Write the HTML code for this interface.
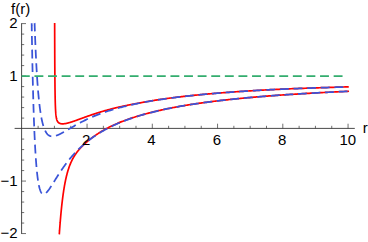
<!DOCTYPE html>
<html><head><meta charset="utf-8"><title>f(r) plot</title><style>
html,body{margin:0;padding:0;background:#fff;}
body{width:368px;height:242px;overflow:hidden;}
svg{display:block;}
</style></head><body>
<svg width="368" height="242" viewBox="0 0 368 242">
<rect width="368" height="242" fill="#fff"/>
<g fill="none" stroke="#343434">
<path d="M14.6,128.40 H354.8" stroke-width="0.9"/>
<path d="M21.60,23.25 V233.91" stroke-width="0.9"/>
<path d="M38.11,128.40 v-2.60 M54.42,128.40 v-2.60 M70.74,128.40 v-2.60 M87.05,128.40 v-4.70 M103.36,128.40 v-2.60 M119.67,128.40 v-2.60 M135.99,128.40 v-2.60 M152.30,128.40 v-4.70 M168.61,128.40 v-2.60 M184.93,128.40 v-2.60 M201.24,128.40 v-2.60 M217.55,128.40 v-4.70 M233.86,128.40 v-2.60 M250.18,128.40 v-2.60 M266.49,128.40 v-2.60 M282.80,128.40 v-4.70 M299.11,128.40 v-2.60 M315.43,128.40 v-2.60 M331.74,128.40 v-2.60 M348.05,128.40 v-4.70 " stroke-width="0.7"/>
<path d="M21.60,233.56 h4.40 M21.60,223.06 h2.60 M21.60,212.56 h2.60 M21.60,202.07 h2.60 M21.60,191.57 h2.60 M21.60,181.07 h4.40 M21.60,170.57 h2.60 M21.60,160.07 h2.60 M21.60,149.58 h2.60 M21.60,139.08 h2.60 M21.60,118.08 h2.60 M21.60,107.58 h2.60 M21.60,97.09 h2.60 M21.60,86.59 h2.60 M21.60,76.09 h4.40 M21.60,65.59 h2.60 M21.60,55.09 h2.60 M21.60,44.60 h2.60 M21.60,34.10 h2.60 M21.60,23.60 h4.40 " stroke-width="0.7"/>
</g>
<g fill="none" stroke-linejoin="round">
<path d="M54.65,23.08 L54.65,23.08 L54.65,23.08 L54.65,23.10 L54.65,23.14 L54.65,23.19 L54.65,23.28 L54.65,23.40 L54.65,23.56 L54.65,23.77 L54.65,24.02 L54.65,24.33 L54.66,24.70 L54.66,25.13 L54.66,25.63 L54.66,26.21 L54.66,26.86 L54.66,27.59 L54.67,28.39 L54.67,29.28 L54.67,30.26 L54.67,31.32 L54.68,32.46 L54.68,33.69 L54.68,35.00 L54.69,36.39 L54.69,37.86 L54.70,39.40 L54.70,41.01 L54.71,42.69 L54.72,44.43 L54.72,46.23 L54.73,48.08 L54.74,49.97 L54.74,51.90 L54.75,53.87 L54.76,55.86 L54.77,57.87 L54.78,59.89 L54.79,61.91 L54.80,63.94 L54.81,65.96 L54.83,67.97 L54.84,69.97 L54.85,71.94 L54.87,73.88 L54.88,75.80 L54.90,77.68 L54.91,79.52 L54.93,81.32 L54.95,83.07 L54.97,84.78 L54.98,86.45 L55.00,88.06 L55.02,89.62 L55.05,91.14 L55.07,92.60 L55.09,94.01 L55.11,95.36 L55.14,96.67 L55.16,97.92 L55.19,99.13 L55.22,100.29 L55.24,101.39 L55.27,102.46 L55.30,103.47 L55.33,104.44 L55.36,105.37 L55.40,106.26 L55.43,107.10 L55.46,107.91 L55.50,108.68 L55.54,109.41 L55.57,110.11 L55.61,110.78 L55.65,111.41 L55.69,112.01 L55.73,112.59 L55.77,113.14 L55.82,113.66 L55.86,114.16 L55.91,114.63 L55.96,115.08 L56.01,115.51 L56.05,115.91 L56.11,116.30 L56.16,116.67 L56.21,117.02 L56.26,117.36 L56.32,117.68 L56.38,117.98 L56.44,118.27 L56.49,118.55 L56.56,118.81 L56.62,119.06 L56.68,119.30 L56.75,119.53 L56.81,119.75 L56.88,119.96 L56.95,120.16 L57.02,120.35 L57.09,120.53 L57.16,120.71 L57.24,120.87 L57.31,121.03 L57.39,121.18 L57.47,121.33 L57.55,121.47 L57.63,121.60 L57.72,121.73 L57.80,121.85 L57.89,121.97 L57.98,122.08 L58.07,122.18 L58.16,122.29 L58.25,122.38 L58.35,122.48 L58.44,122.57 L58.54,122.65 L58.64,122.73 L58.74,122.81 L58.84,122.88 L58.95,122.96 L59.06,123.02 L59.16,123.09 L59.27,123.15 L59.39,123.21 L59.50,123.26 L59.62,123.31 L59.73,123.36 L59.85,123.41 L59.97,123.45 L60.10,123.49 L60.22,123.53 L60.35,123.57 L60.48,123.60 L60.61,123.63 L60.74,123.66 L60.87,123.69 L61.01,123.71 L61.15,123.74 L61.29,123.76 L61.43,123.77 L61.57,123.79 L61.72,123.80 L61.87,123.81 L62.02,123.82 L62.17,123.83 L62.32,123.83 L62.48,123.83 L62.64,123.83 L62.80,123.83 L62.96,123.83 L63.13,123.82 L63.30,123.81 L63.47,123.80 L63.64,123.79 L63.81,123.77 L63.99,123.76 L64.17,123.74 L64.35,123.72 L64.53,123.69 L64.71,123.67 L64.90,123.64 L65.09,123.61 L65.28,123.58 L65.48,123.55 L65.68,123.51 L65.87,123.47 L66.08,123.44 L66.28,123.39 L66.49,123.35 L66.70,123.31 L66.91,123.26 L67.12,123.21 L67.34,123.16 L67.56,123.11 L67.78,123.05 L68.00,122.99 L68.23,122.93 L68.46,122.87 L68.69,122.81 L68.92,122.75 L69.16,122.68 L69.40,122.61 L69.64,122.54 L69.88,122.47 L70.13,122.40 L70.38,122.32 L70.63,122.24 L70.89,122.16 L71.14,122.08 L71.40,122.00 L71.67,121.92 L71.93,121.83 L72.20,121.74 L72.47,121.65 L72.75,121.56 L73.02,121.47 L73.30,121.37 L73.59,121.28 L73.87,121.18 L74.16,121.08 L74.45,120.98 L74.75,120.87 L75.04,120.77 L75.34,120.66 L75.65,120.56 L75.95,120.45 L76.26,120.34 L76.57,120.22 L76.89,120.11 L77.20,120.00 L77.52,119.88 L77.85,119.76 L78.17,119.64 L78.50,119.52 L78.84,119.40 L79.17,119.28 L79.51,119.16 L79.85,119.03 L80.20,118.90 L80.55,118.78 L80.90,118.65 L81.25,118.52 L81.61,118.39 L81.97,118.25 L82.34,118.12 L82.70,117.99 L83.08,117.85 L83.45,117.72 L83.83,117.58 L84.21,117.44 L84.59,117.30 L84.98,117.16 L85.37,117.02 L85.76,116.88 L86.16,116.74 L86.56,116.60 L86.96,116.45 L87.37,116.31 L87.78,116.16 L88.20,116.02 L88.61,115.87 L89.04,115.72 L89.46,115.58 L89.89,115.43 L90.32,115.28 L90.75,115.13 L91.19,114.98 L91.63,114.83 L92.08,114.68 L92.53,114.53 L92.98,114.38 L93.44,114.22 L93.90,114.07 L94.36,113.92 L94.83,113.77 L95.30,113.61 L95.77,113.46 L96.25,113.31 L96.73,113.15 L97.22,113.00 L97.71,112.84 L98.20,112.69 L98.70,112.54 L99.20,112.38 L99.70,112.23 L100.21,112.07 L100.72,111.92 L101.24,111.76 L101.76,111.61 L102.28,111.45 L102.81,111.30 L103.34,111.14 L103.88,110.99 L104.41,110.83 L104.96,110.68 L105.50,110.52 L106.05,110.37 L106.61,110.22 L107.17,110.06 L107.73,109.91 L108.30,109.76 L108.87,109.60 L109.44,109.45 L110.02,109.30 L110.60,109.15 L111.19,108.99 L111.78,108.84 L112.38,108.69 L112.98,108.54 L113.58,108.39 L114.19,108.24 L114.80,108.09 L115.42,107.94 L116.04,107.79 L116.66,107.64 L117.29,107.49 L117.92,107.35 L118.56,107.20 L119.20,107.05 L119.84,106.91 L120.49,106.76 L121.15,106.61 L121.81,106.47 L122.47,106.32 L123.14,106.18 L123.81,106.04 L124.48,105.89 L125.16,105.75 L125.85,105.61 L126.54,105.46 L127.23,105.32 L127.93,105.18 L128.63,105.04 L129.34,104.90 L130.05,104.76 L130.76,104.62 L131.49,104.48 L132.21,104.34 L132.94,104.20 L133.67,104.06 L134.41,103.93 L135.15,103.78 L135.90,103.64 L136.65,103.50 L137.41,103.36 L138.17,103.22 L138.94,103.08 L139.71,102.93 L140.49,102.79 L141.27,102.65 L142.05,102.50 L142.84,102.36 L143.64,102.21 L144.44,102.07 L145.24,101.92 L146.05,101.78 L146.86,101.64 L147.68,101.49 L148.50,101.35 L149.33,101.20 L150.16,101.06 L151.00,100.92 L151.84,100.77 L152.69,100.63 L153.54,100.49 L154.40,100.35 L155.26,100.21 L156.13,100.07 L157.00,99.93 L157.88,99.79 L158.76,99.65 L159.65,99.52 L160.54,99.38 L161.44,99.25 L162.34,99.12 L163.25,98.99 L164.16,98.86 L165.08,98.74 L166.00,98.61 L166.93,98.49 L167.87,98.36 L168.80,98.24 L169.75,98.11 L170.70,97.99 L171.65,97.87 L172.61,97.75 L173.57,97.63 L174.54,97.51 L175.52,97.39 L176.50,97.27 L177.48,97.15 L178.47,97.03 L179.47,96.91 L180.47,96.79 L181.48,96.68 L182.49,96.56 L183.50,96.45 L184.53,96.33 L185.56,96.22 L186.59,96.10 L187.63,95.99 L188.67,95.88 L189.72,95.76 L190.78,95.65 L191.84,95.54 L192.90,95.43 L193.98,95.32 L195.05,95.21 L196.14,95.10 L197.22,95.00 L198.32,94.89 L199.42,94.78 L200.52,94.68 L201.63,94.57 L202.75,94.47 L203.87,94.36 L205.00,94.26 L206.13,94.15 L207.27,94.05 L208.42,93.95 L209.57,93.85 L210.72,93.75 L211.88,93.65 L213.05,93.55 L214.23,93.45 L215.40,93.35 L216.59,93.25 L217.78,93.15 L218.98,93.06 L220.18,92.96 L221.39,92.87 L222.60,92.77 L223.82,92.68 L225.05,92.58 L226.28,92.49 L227.52,92.40 L228.76,92.31 L230.01,92.21 L231.27,92.12 L232.53,92.03 L233.79,91.94 L235.07,91.85 L236.35,91.76 L237.63,91.68 L238.92,91.59 L240.22,91.50 L241.53,91.41 L242.84,91.33 L244.15,91.24 L245.47,91.16 L246.80,91.07 L248.14,90.99 L249.48,90.91 L250.82,90.82 L252.18,90.74 L253.54,90.66 L254.90,90.58 L256.27,90.50 L257.65,90.42 L259.03,90.34 L260.42,90.26 L261.82,90.18 L263.22,90.10 L264.63,90.02 L266.05,89.94 L267.47,89.87 L268.90,89.79 L270.33,89.72 L271.78,89.64 L273.22,89.57 L274.68,89.50 L276.14,89.43 L277.60,89.36 L279.08,89.29 L280.56,89.22 L282.04,89.16 L283.54,89.09 L285.04,89.02 L286.54,88.96 L288.05,88.90 L289.57,88.83 L291.10,88.77 L292.63,88.71 L294.17,88.65 L295.71,88.59 L297.27,88.53 L298.82,88.47 L300.39,88.41 L301.96,88.35 L303.54,88.30 L305.12,88.24 L306.72,88.19 L308.32,88.13 L309.92,88.07 L311.53,88.02 L313.15,87.96 L314.78,87.91 L316.41,87.86 L318.05,87.80 L319.70,87.75 L321.35,87.70 L323.01,87.64 L324.68,87.59 L326.35,87.54 L328.03,87.48 L329.72,87.43 L331.41,87.38 L333.11,87.33 L334.82,87.27 L336.54,87.22 L338.26,87.17 L339.99,87.11 L341.73,87.06 L343.47,87.00 L345.22,86.95 L346.98,86.89 L348.74,86.84" stroke="#ff0000" stroke-width="1.7"/>
<path d="M59.30,234.19 L59.30,234.19 L59.30,234.19 L59.30,234.19 L59.30,234.19 L59.30,234.19 L59.30,234.18 L59.30,234.18 L59.30,234.17 L59.30,234.17 L59.30,234.16 L59.30,234.14 L59.31,234.13 L59.31,234.12 L59.31,234.10 L59.31,234.08 L59.31,234.05 L59.31,234.02 L59.32,233.99 L59.32,233.96 L59.32,233.92 L59.32,233.88 L59.33,233.83 L59.33,233.78 L59.33,233.72 L59.34,233.66 L59.34,233.59 L59.35,233.52 L59.35,233.45 L59.36,233.36 L59.36,233.28 L59.37,233.18 L59.38,233.08 L59.39,232.98 L59.39,232.86 L59.40,232.75 L59.41,232.62 L59.42,232.49 L59.43,232.35 L59.44,232.20 L59.45,232.04 L59.46,231.88 L59.47,231.71 L59.49,231.53 L59.50,231.35 L59.51,231.15 L59.53,230.95 L59.54,230.74 L59.56,230.52 L59.58,230.29 L59.59,230.06 L59.61,229.81 L59.63,229.56 L59.65,229.29 L59.67,229.02 L59.69,228.74 L59.71,228.45 L59.73,228.15 L59.76,227.84 L59.78,227.52 L59.81,227.19 L59.83,226.85 L59.86,226.50 L59.88,226.15 L59.91,225.78 L59.94,225.40 L59.97,225.02 L60.00,224.62 L60.03,224.22 L60.07,223.80 L60.10,223.38 L60.14,222.94 L60.17,222.50 L60.21,222.05 L60.25,221.59 L60.29,221.12 L60.33,220.64 L60.37,220.15 L60.41,219.65 L60.45,219.14 L60.50,218.63 L60.54,218.10 L60.59,217.57 L60.64,217.03 L60.68,216.48 L60.73,215.93 L60.78,215.36 L60.84,214.79 L60.89,214.21 L60.95,213.62 L61.00,213.03 L61.06,212.43 L61.12,211.82 L61.18,211.20 L61.24,210.58 L61.30,209.95 L61.36,209.32 L61.43,208.68 L61.50,208.04 L61.56,207.39 L61.63,206.74 L61.70,206.08 L61.78,205.41 L61.85,204.75 L61.92,204.07 L62.00,203.40 L62.08,202.72 L62.16,202.04 L62.24,201.36 L62.32,200.67 L62.41,199.98 L62.49,199.29 L62.58,198.60 L62.67,197.90 L62.76,197.21 L62.85,196.51 L62.94,195.81 L63.04,195.11 L63.13,194.42 L63.23,193.72 L63.33,193.02 L63.43,192.32 L63.54,191.63 L63.64,190.93 L63.75,190.24 L63.86,189.55 L63.97,188.86 L64.08,188.17 L64.19,187.49 L64.31,186.81 L64.42,186.13 L64.54,185.45 L64.66,184.78 L64.79,184.11 L64.91,183.44 L65.04,182.78 L65.17,182.12 L65.30,181.47 L65.43,180.82 L65.56,180.17 L65.70,179.53 L65.84,178.90 L65.98,178.27 L66.12,177.64 L66.26,177.02 L66.41,176.40 L66.56,175.80 L66.71,175.19 L66.86,174.59 L67.02,174.00 L67.17,173.41 L67.33,172.83 L67.49,172.25 L67.65,171.68 L67.82,171.12 L67.99,170.56 L68.15,170.01 L68.33,169.46 L68.50,168.92 L68.67,168.39 L68.85,167.86 L69.03,167.34 L69.22,166.82 L69.40,166.31 L69.59,165.81 L69.78,165.31 L69.97,164.82 L70.16,164.33 L70.36,163.85 L70.56,163.38 L70.76,162.91 L70.96,162.44 L71.17,161.98 L71.38,161.53 L71.59,161.08 L71.80,160.64 L72.01,160.20 L72.23,159.76 L72.45,159.34 L72.68,158.91 L72.90,158.49 L73.13,158.08 L73.36,157.67 L73.59,157.26 L73.83,156.86 L74.07,156.46 L74.31,156.07 L74.55,155.68 L74.80,155.29 L75.04,154.91 L75.30,154.53 L75.55,154.16 L75.81,153.79 L76.07,153.42 L76.33,153.05 L76.59,152.69 L76.86,152.33 L77.13,151.97 L77.40,151.62 L77.68,151.27 L77.96,150.92 L78.24,150.57 L78.52,150.23 L78.81,149.89 L79.10,149.55 L79.39,149.21 L79.69,148.87 L79.98,148.54 L80.29,148.20 L80.59,147.87 L80.90,147.54 L81.21,147.22 L81.52,146.89 L81.84,146.57 L82.15,146.24 L82.48,145.92 L82.80,145.60 L83.13,145.28 L83.46,144.96 L83.79,144.64 L84.13,144.32 L84.47,144.01 L84.81,143.69 L85.16,143.38 L85.51,143.07 L85.86,142.75 L86.22,142.44 L86.58,142.13 L86.94,141.82 L87.30,141.51 L87.67,141.20 L88.04,140.89 L88.42,140.58 L88.80,140.28 L89.18,139.97 L89.56,139.66 L89.95,139.36 L90.34,139.05 L90.74,138.75 L91.14,138.44 L91.54,138.14 L91.94,137.84 L92.35,137.53 L92.76,137.23 L93.18,136.93 L93.59,136.63 L94.01,136.33 L94.44,136.03 L94.87,135.73 L95.30,135.43 L95.74,135.13 L96.17,134.83 L96.62,134.53 L97.06,134.24 L97.51,133.94 L97.97,133.65 L98.42,133.35 L98.88,133.06 L99.35,132.76 L99.81,132.47 L100.29,132.18 L100.76,131.89 L101.24,131.60 L101.72,131.31 L102.21,131.02 L102.70,130.73 L103.19,130.45 L103.69,130.16 L104.19,129.88 L104.69,129.59 L105.20,129.31 L105.71,129.03 L106.23,128.75 L106.75,128.47 L107.27,128.19 L107.80,127.91 L108.33,127.64 L108.86,127.36 L109.40,127.09 L109.94,126.82 L110.49,126.55 L111.04,126.28 L111.59,126.01 L112.15,125.74 L112.71,125.48 L113.28,125.21 L113.85,124.95 L114.42,124.69 L115.00,124.43 L115.59,124.17 L116.17,123.92 L116.76,123.66 L117.36,123.41 L117.95,123.15 L118.56,122.90 L119.16,122.65 L119.77,122.40 L120.39,122.15 L121.01,121.91 L121.63,121.66 L122.26,121.42 L122.89,121.18 L123.53,120.94 L124.17,120.70 L124.81,120.46 L125.46,120.22 L126.11,119.98 L126.77,119.75 L127.43,119.51 L128.10,119.28 L128.77,119.05 L129.44,118.82 L130.12,118.59 L130.80,118.36 L131.49,118.13 L132.18,117.90 L132.88,117.68 L133.58,117.45 L134.29,117.23 L135.00,117.01 L135.71,116.78 L136.43,116.56 L137.15,116.34 L137.88,116.12 L138.61,115.90 L139.35,115.68 L140.09,115.46 L140.83,115.25 L141.58,115.03 L142.34,114.82 L143.10,114.60 L143.86,114.39 L144.63,114.18 L145.41,113.96 L146.18,113.75 L146.97,113.54 L147.75,113.33 L148.55,113.12 L149.34,112.92 L150.14,112.71 L150.95,112.50 L151.76,112.30 L152.58,112.10 L153.40,111.89 L154.22,111.69 L155.05,111.49 L155.89,111.29 L156.73,111.09 L157.57,110.89 L158.42,110.70 L159.28,110.50 L160.14,110.31 L161.00,110.11 L161.87,109.92 L162.74,109.73 L163.62,109.54 L164.51,109.35 L165.40,109.16 L166.29,108.97 L167.19,108.78 L168.09,108.60 L169.00,108.41 L169.92,108.23 L170.84,108.05 L171.76,107.86 L172.69,107.68 L173.62,107.50 L174.56,107.33 L175.51,107.15 L176.46,106.97 L177.41,106.80 L178.37,106.62 L179.34,106.45 L180.31,106.28 L181.29,106.11 L182.27,105.94 L183.25,105.77 L184.24,105.60 L185.24,105.43 L186.24,105.27 L187.25,105.10 L188.26,104.94 L189.28,104.77 L190.31,104.61 L191.33,104.45 L192.37,104.29 L193.41,104.13 L194.45,103.97 L195.50,103.81 L196.56,103.66 L197.62,103.50 L198.69,103.35 L199.76,103.19 L200.84,103.04 L201.92,102.89 L203.01,102.74 L204.10,102.59 L205.20,102.44 L206.31,102.29 L207.42,102.15 L208.54,102.00 L209.66,101.85 L210.79,101.71 L211.92,101.57 L213.06,101.42 L214.20,101.28 L215.35,101.14 L216.51,101.00 L217.67,100.86 L218.84,100.72 L220.01,100.59 L221.19,100.45 L222.37,100.32 L223.56,100.18 L224.76,100.05 L225.96,99.91 L227.17,99.78 L228.38,99.65 L229.60,99.52 L230.83,99.39 L232.06,99.26 L233.30,99.13 L234.54,99.00 L235.79,98.88 L237.04,98.75 L238.30,98.63 L239.57,98.50 L240.84,98.38 L242.12,98.26 L243.40,98.14 L244.69,98.01 L245.99,97.89 L247.29,97.77 L248.60,97.66 L249.92,97.54 L251.24,97.42 L252.56,97.30 L253.90,97.19 L255.24,97.07 L256.58,96.96 L257.93,96.84 L259.29,96.73 L260.65,96.62 L262.02,96.51 L263.40,96.40 L264.78,96.29 L266.17,96.18 L267.56,96.07 L268.96,95.96 L270.37,95.85 L271.79,95.75 L273.20,95.64 L274.63,95.54 L276.06,95.43 L277.50,95.33 L278.95,95.22 L280.40,95.12 L281.86,95.02 L283.32,94.92 L284.79,94.82 L286.27,94.72 L287.75,94.62 L289.24,94.52 L290.74,94.42 L292.24,94.32 L293.75,94.23 L295.27,94.13 L296.79,94.03 L298.32,93.94 L299.85,93.84 L301.39,93.75 L302.94,93.66 L304.50,93.56 L306.06,93.47 L307.63,93.38 L309.20,93.29 L310.78,93.20 L312.37,93.11 L313.97,93.02 L315.57,92.93 L317.18,92.84 L318.79,92.75 L320.41,92.67 L322.04,92.58 L323.68,92.50 L325.32,92.41 L326.97,92.32 L328.63,92.24 L330.29,92.16 L331.96,92.07 L333.63,91.99 L335.32,91.91 L337.01,91.83 L338.70,91.75 L340.41,91.66 L342.12,91.58 L343.83,91.50 L345.56,91.43 L347.29,91.35 L349.03,91.27" stroke="#ff0000" stroke-width="1.7"/>
<path d="M34.60,23.18 L34.60,23.18 L34.60,23.18 L34.60,23.18 L34.60,23.19 L34.60,23.19 L34.60,23.20 L34.60,23.21 L34.60,23.22 L34.60,23.24 L34.60,23.26 L34.61,23.28 L34.61,23.31 L34.61,23.35 L34.61,23.39 L34.61,23.44 L34.61,23.49 L34.61,23.55 L34.62,23.62 L34.62,23.70 L34.62,23.79 L34.63,23.88 L34.63,23.99 L34.63,24.10 L34.64,24.22 L34.64,24.36 L34.65,24.51 L34.65,24.66 L34.66,24.83 L34.66,25.01 L34.67,25.21 L34.68,25.42 L34.68,25.64 L34.69,25.87 L34.70,26.12 L34.71,26.38 L34.72,26.66 L34.73,26.95 L34.74,27.26 L34.75,27.59 L34.76,27.93 L34.78,28.28 L34.79,28.65 L34.80,29.04 L34.82,29.45 L34.83,29.87 L34.85,30.31 L34.86,30.77 L34.88,31.25 L34.90,31.74 L34.92,32.25 L34.94,32.78 L34.96,33.33 L34.98,33.89 L35.00,34.48 L35.02,35.08 L35.04,35.70 L35.07,36.34 L35.09,37.00 L35.12,37.67 L35.15,38.36 L35.17,39.08 L35.20,39.80 L35.23,40.55 L35.26,41.32 L35.29,42.10 L35.33,42.90 L35.36,43.72 L35.39,44.55 L35.43,45.40 L35.47,46.27 L35.50,47.15 L35.54,48.05 L35.58,48.96 L35.62,49.89 L35.66,50.84 L35.71,51.80 L35.75,52.77 L35.80,53.75 L35.84,54.75 L35.89,55.76 L35.94,56.79 L35.99,57.82 L36.04,58.87 L36.09,59.93 L36.15,60.99 L36.20,62.07 L36.26,63.15 L36.32,64.25 L36.38,65.35 L36.44,66.46 L36.50,67.58 L36.56,68.70 L36.63,69.83 L36.69,70.96 L36.76,72.09 L36.83,73.23 L36.90,74.38 L36.97,75.52 L37.04,76.67 L37.12,77.82 L37.20,78.97 L37.27,80.12 L37.35,81.27 L37.43,82.41 L37.52,83.56 L37.60,84.70 L37.69,85.84 L37.77,86.98 L37.86,88.11 L37.95,89.23 L38.05,90.35 L38.14,91.47 L38.23,92.58 L38.33,93.68 L38.43,94.77 L38.53,95.86 L38.63,96.93 L38.74,98.00 L38.84,99.06 L38.95,100.10 L39.06,101.14 L39.17,102.16 L39.29,103.18 L39.40,104.18 L39.52,105.17 L39.64,106.15 L39.76,107.11 L39.88,108.06 L40.01,109.00 L40.13,109.92 L40.26,110.83 L40.39,111.72 L40.53,112.60 L40.66,113.46 L40.80,114.31 L40.94,115.14 L41.08,115.96 L41.22,116.76 L41.36,117.55 L41.51,118.31 L41.66,119.07 L41.81,119.80 L41.96,120.52 L42.12,121.22 L42.28,121.91 L42.44,122.58 L42.60,123.23 L42.76,123.86 L42.93,124.48 L43.10,125.08 L43.27,125.66 L43.44,126.23 L43.62,126.78 L43.80,127.31 L43.98,127.83 L44.16,128.33 L44.35,128.81 L44.53,129.28 L44.72,129.73 L44.91,130.16 L45.11,130.58 L45.31,130.98 L45.51,131.36 L45.71,131.73 L45.91,132.09 L46.12,132.42 L46.33,132.75 L46.54,133.05 L46.75,133.35 L46.97,133.62 L47.19,133.89 L47.41,134.13 L47.64,134.37 L47.87,134.59 L48.10,134.79 L48.33,134.99 L48.56,135.17 L48.80,135.33 L49.04,135.48 L49.29,135.62 L49.53,135.75 L49.78,135.87 L50.03,135.97 L50.29,136.06 L50.54,136.14 L50.80,136.21 L51.07,136.27 L51.33,136.31 L51.60,136.35 L51.87,136.37 L52.15,136.39 L52.42,136.39 L52.70,136.39 L52.99,136.37 L53.27,136.35 L53.56,136.31 L53.85,136.27 L54.15,136.22 L54.44,136.16 L54.74,136.09 L55.05,136.01 L55.35,135.93 L55.66,135.84 L55.98,135.74 L56.29,135.63 L56.61,135.52 L56.93,135.40 L57.26,135.27 L57.59,135.14 L57.92,135.00 L58.25,134.85 L58.59,134.70 L58.93,134.54 L59.28,134.38 L59.62,134.21 L59.98,134.04 L60.33,133.86 L60.69,133.68 L61.05,133.49 L61.41,133.30 L61.78,133.10 L62.15,132.90 L62.52,132.70 L62.90,132.49 L63.28,132.28 L63.66,132.06 L64.05,131.84 L64.44,131.62 L64.84,131.40 L65.24,131.17 L65.64,130.94 L66.04,130.70 L66.45,130.47 L66.86,130.23 L67.28,129.99 L67.70,129.74 L68.12,129.50 L68.54,129.25 L68.97,129.00 L69.41,128.75 L69.84,128.50 L70.28,128.24 L70.73,127.99 L71.18,127.73 L71.63,127.47 L72.08,127.21 L72.54,126.95 L73.01,126.68 L73.47,126.42 L73.94,126.15 L74.42,125.88 L74.89,125.61 L75.38,125.34 L75.86,125.07 L76.35,124.80 L76.84,124.52 L77.34,124.25 L77.84,123.98 L78.35,123.70 L78.85,123.43 L79.37,123.15 L79.88,122.87 L80.40,122.60 L80.93,122.32 L81.46,122.04 L81.99,121.77 L82.53,121.49 L83.07,121.21 L83.61,120.94 L84.16,120.66 L84.71,120.39 L85.27,120.11 L85.83,119.84 L86.39,119.56 L86.96,119.29 L87.54,119.02 L88.11,118.75 L88.70,118.48 L89.28,118.21 L89.87,117.94 L90.47,117.67 L91.06,117.41 L91.67,117.14 L92.27,116.88 L92.89,116.62 L93.50,116.36 L94.12,116.10 L94.75,115.84 L95.37,115.59 L96.01,115.34 L96.64,115.09 L97.29,114.84 L97.93,114.59 L98.58,114.35 L99.24,114.10 L99.90,113.86 L100.56,113.61 L101.23,113.37 L101.90,113.13 L102.58,112.89 L103.26,112.65 L103.95,112.42 L104.64,112.18 L105.34,111.94 L106.04,111.71 L106.74,111.48 L107.45,111.25 L108.17,111.02 L108.88,110.79 L109.61,110.56 L110.34,110.34 L111.07,110.11 L111.81,109.89 L112.55,109.67 L113.30,109.44 L114.05,109.23 L114.81,109.01 L115.57,108.79 L116.33,108.57 L117.10,108.36 L117.88,108.15 L118.66,107.94 L119.45,107.72 L120.24,107.52 L121.03,107.31 L121.83,107.10 L122.64,106.90 L123.45,106.69 L124.26,106.49 L125.08,106.29 L125.91,106.09 L126.74,105.89 L127.57,105.69 L128.41,105.50 L129.26,105.30 L130.11,105.11 L130.96,104.91 L131.82,104.72 L132.69,104.53 L133.56,104.35 L134.44,104.16 L135.32,103.97 L136.20,103.79 L137.09,103.60 L137.99,103.42 L138.89,103.24 L139.80,103.06 L140.71,102.88 L141.63,102.71 L142.55,102.53 L143.48,102.35 L144.41,102.18 L145.35,102.01 L146.29,101.84 L147.24,101.67 L148.20,101.50 L149.16,101.33 L150.12,101.16 L151.09,101.00 L152.07,100.84 L153.05,100.67 L154.04,100.51 L155.03,100.35 L156.03,100.19 L157.03,100.03 L158.04,99.88 L159.06,99.72 L160.08,99.56 L161.10,99.41 L162.13,99.26 L163.17,99.11 L164.21,98.96 L165.26,98.81 L166.31,98.66 L167.37,98.51 L168.44,98.37 L169.51,98.22 L170.59,98.08 L171.67,97.93 L172.76,97.79 L173.85,97.65 L174.95,97.51 L176.05,97.37 L177.17,97.23 L178.28,97.10 L179.40,96.96 L180.53,96.83 L181.67,96.69 L182.81,96.56 L183.95,96.43 L185.10,96.30 L186.26,96.17 L187.43,96.04 L188.60,95.91 L189.77,95.78 L190.95,95.66 L192.14,95.53 L193.33,95.41 L194.53,95.28 L195.74,95.16 L196.95,95.04 L198.17,94.92 L199.39,94.80 L200.62,94.68 L201.86,94.56 L203.10,94.45 L204.35,94.33 L205.60,94.21 L206.86,94.10 L208.13,93.98 L209.40,93.87 L210.68,93.76 L211.97,93.65 L213.26,93.54 L214.55,93.43 L215.86,93.32 L217.17,93.21 L218.49,93.10 L219.81,93.00 L221.14,92.89 L222.47,92.79 L223.82,92.68 L225.16,92.58 L226.52,92.48 L227.88,92.38 L229.25,92.27 L230.62,92.17 L232.00,92.07 L233.39,91.98 L234.78,91.88 L236.18,91.78 L237.59,91.68 L239.00,91.59 L240.42,91.49 L241.85,91.40 L243.28,91.30 L244.72,91.21 L246.16,91.12 L247.62,91.03 L249.07,90.93 L250.54,90.84 L252.01,90.75 L253.49,90.66 L254.98,90.58 L256.47,90.49 L257.97,90.40 L259.47,90.31 L260.99,90.23 L262.51,90.14 L264.03,90.06 L265.57,89.97 L267.11,89.89 L268.65,89.81 L270.21,89.73 L271.77,89.65 L273.33,89.57 L274.91,89.49 L276.49,89.41 L278.08,89.34 L279.67,89.27 L281.27,89.19 L282.88,89.12 L284.50,89.05 L286.12,88.98 L287.75,88.91 L289.39,88.84 L291.03,88.78 L292.68,88.71 L294.34,88.64 L296.00,88.58 L297.68,88.52 L299.35,88.45 L301.04,88.39 L302.73,88.33 L304.43,88.27 L306.14,88.21 L307.86,88.15 L309.58,88.09 L311.31,88.03 L313.05,87.97 L314.79,87.91 L316.54,87.85 L318.30,87.80 L320.06,87.74 L321.84,87.68 L323.62,87.63 L325.41,87.57 L327.20,87.51 L329.00,87.46 L330.81,87.40 L332.63,87.34 L334.46,87.28 L336.29,87.23 L338.13,87.17 L339.97,87.11 L341.83,87.06 L343.69,87.00 L345.56,86.94 L347.44,86.88" stroke="#3a54d8" stroke-width="1.75" stroke-dasharray="8.87 4.745" stroke-dashoffset="0.7"/>
<path d="M31.67,23.18 L31.67,23.18 L31.67,23.18 L31.67,23.18 L31.67,23.19 L31.67,23.20 L31.67,23.22 L31.67,23.24 L31.67,23.26 L31.67,23.30 L31.67,23.34 L31.67,23.40 L31.68,23.46 L31.68,23.54 L31.68,23.62 L31.68,23.73 L31.68,23.84 L31.68,23.97 L31.69,24.12 L31.69,24.29 L31.69,24.47 L31.70,24.67 L31.70,24.90 L31.70,25.14 L31.71,25.40 L31.71,25.69 L31.72,26.00 L31.72,26.34 L31.73,26.70 L31.73,27.08 L31.74,27.50 L31.75,27.94 L31.76,28.40 L31.76,28.90 L31.77,29.43 L31.78,29.98 L31.79,30.57 L31.80,31.19 L31.81,31.83 L31.82,32.52 L31.83,33.23 L31.85,33.98 L31.86,34.76 L31.87,35.57 L31.89,36.42 L31.90,37.30 L31.92,38.22 L31.94,39.17 L31.95,40.16 L31.97,41.18 L31.99,42.24 L32.01,43.33 L32.03,44.46 L32.05,45.62 L32.07,46.82 L32.10,48.05 L32.12,49.32 L32.14,50.62 L32.17,51.95 L32.20,53.32 L32.22,54.72 L32.25,56.16 L32.28,57.62 L32.31,59.12 L32.34,60.65 L32.37,62.20 L32.41,63.79 L32.44,65.41 L32.47,67.05 L32.51,68.72 L32.55,70.42 L32.59,72.14 L32.62,73.89 L32.67,75.66 L32.71,77.45 L32.75,79.26 L32.79,81.09 L32.84,82.94 L32.88,84.81 L32.93,86.69 L32.98,88.59 L33.03,90.51 L33.08,92.43 L33.13,94.37 L33.19,96.31 L33.24,98.27 L33.30,100.23 L33.35,102.20 L33.41,104.17 L33.47,106.15 L33.53,108.12 L33.60,110.10 L33.66,112.08 L33.73,114.05 L33.79,116.02 L33.86,117.98 L33.93,119.94 L34.00,121.89 L34.08,123.83 L34.15,125.77 L34.23,127.69 L34.30,129.59 L34.38,131.48 L34.46,133.36 L34.54,135.22 L34.63,137.07 L34.71,138.89 L34.80,140.70 L34.89,142.48 L34.98,144.24 L35.07,145.98 L35.16,147.70 L35.26,149.39 L35.36,151.06 L35.46,152.70 L35.56,154.31 L35.66,155.89 L35.76,157.45 L35.87,158.98 L35.98,160.47 L36.09,161.94 L36.20,163.38 L36.31,164.78 L36.42,166.15 L36.54,167.49 L36.66,168.80 L36.78,170.08 L36.90,171.32 L37.03,172.53 L37.15,173.70 L37.28,174.84 L37.41,175.95 L37.55,177.02 L37.68,178.06 L37.82,179.06 L37.96,180.03 L38.10,180.97 L38.24,181.87 L38.38,182.73 L38.53,183.56 L38.68,184.36 L38.83,185.13 L38.98,185.86 L39.14,186.55 L39.30,187.22 L39.46,187.85 L39.62,188.45 L39.78,189.02 L39.95,189.55 L40.12,190.05 L40.29,190.53 L40.47,190.97 L40.64,191.38 L40.82,191.76 L41.00,192.11 L41.18,192.43 L41.37,192.72 L41.56,192.99 L41.75,193.23 L41.94,193.44 L42.13,193.62 L42.33,193.78 L42.53,193.91 L42.73,194.01 L42.94,194.09 L43.15,194.15 L43.35,194.18 L43.57,194.19 L43.78,194.18 L44.00,194.14 L44.22,194.09 L44.44,194.01 L44.67,193.91 L44.90,193.79 L45.13,193.65 L45.36,193.50 L45.60,193.32 L45.83,193.13 L46.08,192.91 L46.32,192.68 L46.57,192.44 L46.82,192.18 L47.07,191.90 L47.32,191.61 L47.58,191.30 L47.84,190.98 L48.11,190.65 L48.37,190.30 L48.64,189.94 L48.92,189.57 L49.19,189.18 L49.47,188.79 L49.75,188.38 L50.03,187.96 L50.32,187.54 L50.61,187.10 L50.90,186.65 L51.20,186.20 L51.50,185.73 L51.80,185.26 L52.10,184.78 L52.41,184.29 L52.72,183.80 L53.04,183.30 L53.36,182.79 L53.68,182.27 L54.00,181.75 L54.33,181.23 L54.66,180.70 L54.99,180.16 L55.33,179.62 L55.66,179.08 L56.01,178.53 L56.35,177.98 L56.70,177.42 L57.06,176.86 L57.41,176.30 L57.77,175.73 L58.13,175.17 L58.50,174.60 L58.87,174.02 L59.24,173.45 L59.62,172.87 L60.00,172.30 L60.38,171.72 L60.76,171.14 L61.15,170.56 L61.55,169.98 L61.94,169.40 L62.34,168.81 L62.75,168.23 L63.15,167.65 L63.57,167.07 L63.98,166.49 L64.40,165.90 L64.82,165.32 L65.24,164.74 L65.67,164.16 L66.10,163.58 L66.54,163.01 L66.98,162.43 L67.42,161.85 L67.87,161.28 L68.32,160.71 L68.78,160.14 L69.23,159.57 L69.69,159.00 L70.16,158.43 L70.63,157.87 L71.10,157.31 L71.58,156.75 L72.06,156.19 L72.55,155.63 L73.03,155.08 L73.53,154.53 L74.02,153.98 L74.52,153.43 L75.03,152.89 L75.54,152.35 L76.05,151.81 L76.56,151.27 L77.08,150.74 L77.61,150.21 L78.14,149.68 L78.67,149.15 L79.20,148.63 L79.74,148.11 L80.29,147.60 L80.84,147.08 L81.39,146.57 L81.94,146.06 L82.51,145.56 L83.07,145.06 L83.64,144.56 L84.21,144.06 L84.79,143.57 L85.37,143.08 L85.96,142.59 L86.55,142.11 L87.14,141.63 L87.74,141.15 L88.34,140.68 L88.95,140.21 L89.56,139.74 L90.18,139.27 L90.80,138.81 L91.42,138.35 L92.05,137.90 L92.68,137.45 L93.32,137.00 L93.96,136.55 L94.61,136.11 L95.26,135.67 L95.92,135.23 L96.58,134.80 L97.24,134.37 L97.91,133.94 L98.59,133.52 L99.26,133.10 L99.95,132.68 L100.63,132.27 L101.33,131.86 L102.02,131.45 L102.72,131.04 L103.43,130.64 L104.14,130.24 L104.85,129.85 L105.57,129.45 L106.30,129.06 L107.03,128.68 L107.76,128.29 L108.50,127.91 L109.24,127.53 L109.99,127.16 L110.75,126.79 L111.50,126.42 L112.27,126.05 L113.03,125.69 L113.81,125.33 L114.58,124.97 L115.37,124.62 L116.15,124.26 L116.95,123.91 L117.74,123.57 L118.54,123.22 L119.35,122.88 L120.16,122.55 L120.98,122.21 L121.80,121.88 L122.63,121.55 L123.46,121.22 L124.30,120.89 L125.14,120.57 L125.99,120.25 L126.84,119.94 L127.70,119.62 L128.56,119.31 L129.43,119.00 L130.30,118.69 L131.18,118.39 L132.06,118.09 L132.95,117.79 L133.84,117.49 L134.74,117.20 L135.64,116.91 L136.55,116.62 L137.47,116.33 L138.39,116.04 L139.31,115.76 L140.24,115.48 L141.18,115.20 L142.12,114.93 L143.07,114.66 L144.02,114.38 L144.98,114.12 L145.94,113.85 L146.91,113.58 L147.88,113.32 L148.86,113.06 L149.85,112.80 L150.84,112.55 L151.83,112.29 L152.84,112.04 L153.84,111.79 L154.85,111.55 L155.87,111.30 L156.90,111.06 L157.93,110.82 L158.96,110.58 L160.00,110.34 L161.05,110.10 L162.10,109.87 L163.16,109.64 L164.22,109.41 L165.29,109.18 L166.36,108.95 L167.44,108.73 L168.53,108.51 L169.62,108.29 L170.72,108.07 L171.82,107.85 L172.93,107.64 L174.05,107.42 L175.17,107.21 L176.30,107.00 L177.43,106.79 L178.57,106.59 L179.71,106.38 L180.86,106.18 L182.02,105.98 L183.18,105.78 L184.35,105.58 L185.52,105.38 L186.70,105.19 L187.89,105.00 L189.08,104.80 L190.28,104.61 L191.49,104.43 L192.70,104.24 L193.91,104.05 L195.14,103.87 L196.37,103.69 L197.60,103.51 L198.84,103.33 L200.09,103.15 L201.34,102.97 L202.60,102.80 L203.87,102.62 L205.14,102.45 L206.42,102.28 L207.71,102.11 L209.00,101.94 L210.29,101.77 L211.60,101.61 L212.91,101.44 L214.23,101.28 L215.55,101.12 L216.88,100.96 L218.21,100.80 L219.56,100.64 L220.90,100.48 L222.26,100.33 L223.62,100.17 L224.99,100.02 L226.36,99.87 L227.74,99.72 L229.13,99.57 L230.52,99.42 L231.92,99.27 L233.33,99.13 L234.74,98.98 L236.16,98.84 L237.59,98.70 L239.02,98.56 L240.46,98.42 L241.91,98.28 L243.36,98.14 L244.82,98.00 L246.29,97.87 L247.76,97.73 L249.24,97.60 L250.73,97.47 L252.22,97.33 L253.73,97.20 L255.23,97.07 L256.75,96.94 L258.27,96.82 L259.79,96.69 L261.33,96.56 L262.87,96.44 L264.42,96.32 L265.97,96.19 L267.54,96.07 L269.10,95.95 L270.68,95.83 L272.26,95.71 L273.85,95.59 L275.45,95.48 L277.05,95.36 L278.66,95.24 L280.28,95.13 L281.91,95.02 L283.54,94.90 L285.18,94.79 L286.82,94.68 L288.48,94.57 L290.14,94.46 L291.81,94.35 L293.48,94.24 L295.16,94.14 L296.85,94.03 L298.55,93.92 L300.25,93.82 L301.96,93.72 L303.68,93.61 L305.40,93.51 L307.14,93.41 L308.88,93.31 L310.62,93.21 L312.38,93.11 L314.14,93.01 L315.91,92.91 L317.69,92.81 L319.47,92.72 L321.26,92.62 L323.06,92.53 L324.87,92.43 L326.68,92.34 L328.50,92.25 L330.33,92.15 L332.16,92.06 L334.01,91.97 L335.86,91.88 L337.72,91.79 L339.58,91.70 L341.46,91.61 L343.34,91.53 L345.23,91.44 L347.12,91.35 L349.03,91.27" stroke="#3a54d8" stroke-width="1.75" stroke-dasharray="8.85 4.73" stroke-dashoffset="0.7"/>
<path d="M21.60,76.17 H347.1" stroke="#33ad6e" stroke-width="1.7" stroke-dasharray="8.9 4.7" stroke-dashoffset="0.75"/>
</g>
<g fill="#000" stroke="none" font-family="'Liberation Sans', sans-serif" font-size="15">
<text x="86.1" y="144.85" text-anchor="middle">2</text>
<text x="151.4" y="144.85" text-anchor="middle">4</text>
<text x="216.9" y="144.85" text-anchor="middle">6</text>
<text x="282.2" y="144.85" text-anchor="middle">8</text>
<text x="347.8" y="145.05" text-anchor="middle">10</text>
<text x="17.6" y="28.35" text-anchor="end">2</text>
<text x="17.6" y="80.89" text-anchor="end">1</text>
<text x="17.6" y="185.87" text-anchor="end">−1</text>
<text x="17.6" y="238.11" text-anchor="end">−2</text>
<text x="362.8" y="132.85">r</text>
<text x="11" y="13.55">f(r)</text>
</g>
</svg>
</body></html>
